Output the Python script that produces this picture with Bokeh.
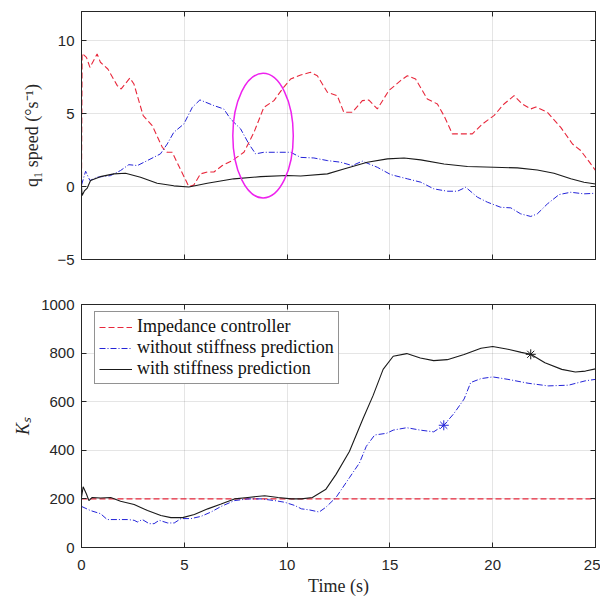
from bokeh.plotting import figure
from bokeh.layouts import column
from bokeh.models import LinearAxis, Range1d, FixedTicker
from bokeh.embed import file_html
from bokeh.resources import INLINE

# ---------------- data: top panel (q1 speed, deg/s) ----------------
t_imp_q = [0, 0.03, 0.24, 0.41, 0.76, 0.92, 1.28, 1.74, 1.93, 2.35, 2.55, 3.0, 3.44, 3.93, 4.17, 4.41,
           5.22, 5.46, 5.79, 6.12, 6.44, 6.85, 7.33, 7.9, 8.39, 8.87, 9.36, 9.77, 10.17, 10.66, 11.14,
           11.47, 11.96, 12.44, 12.76, 13.17, 13.66, 13.98, 14.39, 14.95, 15.52, 15.85, 16.25, 16.82,
           17.31, 17.63, 18.04, 18.53, 19.01, 19.5, 20.06, 20.55, 21.04, 21.44, 21.85, 22.1, 22.66,
           23.31, 23.88, 24.28, 24.77, 25.0]
q_imp = [0, 9.13, 8.86, 8.17, 9.09, 8.52, 8.06, 6.92, 6.69, 7.44, 7.03, 4.86, 4.18, 2.69, 2.35, 2.35,
         0.0, 0.1, 0.87, 1.0, 1.0, 1.44, 1.78, 2.35, 3.72, 5.43, 5.89, 6.69, 7.37, 7.65, 7.83,
         7.6, 6.46, 6.23, 5.09, 5.09, 5.89, 5.93, 5.32, 6.58, 7.26, 7.6, 7.37, 6.0,
         5.66, 4.86, 3.61, 3.61, 3.61, 4.29, 4.86, 5.66, 6.23, 5.66, 5.32, 5.45, 5.09,
         4.06, 2.92, 2.47, 1.55, 1.1]

t_wo_q = [0, 0.2, 0.41, 0.76, 1.41, 1.9, 2.3, 2.72, 3.2, 3.84, 4.17, 4.49, 4.98, 5.39, 5.76, 6.44,
          6.92, 7.25, 7.74, 8.14, 8.47, 8.87, 9.52, 10.17, 10.66, 11.3, 11.96, 12.6, 13.17, 13.66,
          14.39, 15.04, 15.85, 16.5, 17.14, 17.8, 18.28, 18.69, 19.26, 19.74, 20.39, 20.88, 21.36,
          21.85, 22.17, 22.66, 23.23, 23.8, 24.44, 25.0]
q_wo = [0.1, 1.05, 0.41, 0.64, 0.75, 1.1, 1.5, 1.44, 1.78, 2.24, 2.92, 3.72, 4.29, 5.43, 5.94, 5.55,
        5.32, 4.63, 3.95, 2.92, 2.24, 2.35, 2.35, 2.35, 2.0, 1.96, 1.78, 1.67, 1.44, 1.74,
        1.32, 0.82, 0.53, 0.3, -0.16, -0.32, -0.32, -0.05, -0.73, -1.07, -1.42, -1.46, -1.87,
        -2.05, -1.87, -1.19, -0.55, -0.39, -0.5, -0.46]

t_w_q = [0, 0.03, 0.14, 0.28, 0.44, 0.92, 1.57, 2.14, 2.87, 3.68, 4.49, 5.22, 6.12, 7.41, 8.71,
         10.01, 10.66, 11.96, 12.76, 13.9, 14.88, 15.69, 16.5, 17.63, 18.77, 20.06, 21.2, 22.17,
         22.98, 23.8, 24.44, 25.0]
q_w = [0, -0.62, -0.3, -0.1, 0.41, 0.68, 0.87, 0.91, 0.64, 0.23, 0.05, -0.03, 0.23, 0.53, 0.68,
       0.76, 0.72, 0.87, 1.21, 1.67, 1.9, 1.96, 1.83, 1.55, 1.37, 1.32, 1.28, 1.14,
       0.91, 0.53, 0.3, 0.18]

# highlighted region (ellipse) in the top panel
ell_x = [8.83]
ell_y = [3.49]
ell_w = [2.94]
ell_h = [8.54]

# ---------------- data: bottom panel (Ks) ----------------
t_imp_k = [0, 25]
k_imp = [200, 200]

t_w_k = [0, 0.08, 0.24, 0.36, 0.52, 0.93, 1.42, 1.9, 2.56, 3.21, 3.86, 4.35, 4.92, 5.49, 6.14,
         6.79, 7.44, 8.09, 8.91, 9.56, 10.21, 10.7, 11.23, 11.89, 12.38, 13.03, 13.69, 14.18,
         14.67, 15.16, 15.82, 16.48, 17.13, 17.79, 18.61, 19.43, 20.0, 20.74, 21.39, 21.85,
         22.54, 23.36, 24.02, 24.51, 25.0]
k_w = [206, 250, 220, 193, 206, 204, 206, 190, 177, 152, 132, 123, 123, 136, 159,
       179, 200, 206, 213, 206, 200, 200, 206, 240, 301, 395, 530, 625,
       733, 787, 798, 780, 769, 773, 794, 820, 827, 816, 803, 795,
       760, 733, 722, 726, 735]

t_wo_k = [0, 0.44, 0.93, 1.25, 2.23, 2.56, 2.72, 2.96, 3.29, 3.53, 3.78, 4.19, 4.51, 4.84, 5.33,
          5.81, 6.3, 6.79, 7.44, 8.09, 8.75, 9.4, 9.89, 10.37, 10.7, 11.07, 11.56, 11.89, 12.38,
          13.03, 13.52, 13.85, 14.26, 14.84, 15.16, 15.82, 16.48, 17.13, 17.62, 18.11, 18.61,
          18.93, 19.43, 20.0, 20.74, 21.72, 22.7, 23.69, 24.51, 25.0]
k_wo = [169, 152, 139, 115, 115, 112, 105, 115, 98, 98, 112, 101, 101, 119, 119,
        128, 146, 169, 193, 200, 200, 193, 186, 173, 159, 155, 146, 166, 206,
        287, 348, 416, 463, 470, 483, 493, 483, 476, 503, 551, 611,
        679, 695, 702, 692, 676, 665, 668, 686, 692]

star_w_t = [21.85]
star_w_k = [795]
star_wo_t = [17.62]
star_wo_k = [503]

x_ticks = [0, 5, 10, 15, 20, 25]
yq_ticks = [-5, 0, 5, 10]
yk_ticks = [0, 200, 400, 600, 800, 1000]

RED = "#e8283c"
BLUE = "#2424d8"
BLACK = "#1a1a1a"
AX = "#262626"
SERIF = "Liberation Serif"
SANS = "Liberation Sans"


def tick_only_axis(ax, ticks):
    # ticks without labels: use minor ticks only (minor ticks carry no labels)
    ax.ticker = FixedTicker(ticks=[], minor_ticks=ticks)
    ax.minor_tick_in = 5
    ax.minor_tick_out = 0
    ax.minor_tick_line_color = AX
    ax.major_label_standoff = 0
    ax.axis_line_color = AX


def style(p, yticks, show_x_labels):
    xa = p.xaxis[0]
    ya = p.yaxis[0]
    p.outline_line_color = AX
    p.outline_line_alpha = 1
    p.xgrid.ticker = FixedTicker(ticks=x_ticks)
    p.ygrid.ticker = FixedTicker(ticks=yticks)
    for g in (p.xgrid, p.ygrid):
        g.grid_line_color = AX
        g.grid_line_alpha = 0.12
    for ax in (xa, ya):
        ax.axis_line_color = AX
        ax.major_tick_line_color = AX
        ax.major_tick_in = 5
        ax.major_tick_out = 0
        ax.minor_tick_line_color = None
        ax.major_label_text_font = SANS
        ax.major_label_text_font_size = "15px"
        ax.major_label_text_color = AX
        ax.axis_label_text_font = SERIF
        ax.axis_label_text_font_size = "18px"
        ax.axis_label_text_font_style = "normal"
        ax.axis_label_text_color = AX
    xa.ticker = FixedTicker(ticks=x_ticks)
    ya.ticker = FixedTicker(ticks=yticks)
    ya.major_label_standoff = 7
    xa.major_label_standoff = 12
    if not show_x_labels:
        tick_only_axis(xa, x_ticks)
    # box ticks on top / right (MATLAB style)
    for side, ticks in (("above", x_ticks), ("right", yticks)):
        a = LinearAxis()
        tick_only_axis(a, ticks)
        p.add_layout(a, side)
    return xa, ya


# ---------------- top figure ----------------
p1 = figure(width=600, height=270, output_backend="svg", toolbar_location=None,
            x_range=Range1d(0, 25), y_range=Range1d(-5, 12),
            min_border_left=81, min_border_right=5, min_border_top=11, min_border_bottom=11)
xa1, ya1 = style(p1, yq_ticks, False)
ya1.axis_label = "q\u2081 speed (\u00b0s\u207b\u00b9)"
ya1.axis_label_standoff = 12

p1.line(t_imp_q, q_imp, line_color=RED, line_width=1.1, line_dash="6 3")
p1.line(t_wo_q, q_wo, line_color=BLUE, line_width=1.0, line_dash="6 2 1 2")
p1.line(t_w_q, q_w, line_color=BLACK, line_width=1.1)
p1.ellipse(x=ell_x, y=ell_y, width=ell_w, height=ell_h, fill_color=None,
           line_color="#ee22ee", line_width=1.5)

# ---------------- bottom figure ----------------
p2 = figure(width=600, height=328, output_backend="svg", toolbar_location=None,
            x_range=Range1d(0, 25), y_range=Range1d(0, 1000),
            min_border_left=81, min_border_right=5, min_border_top=34, min_border_bottom=47)
xa2, ya2 = style(p2, yk_ticks, True)
ya2.axis_label = "K\u209b"
ya2.axis_label_text_font_style = "italic"
ya2.axis_label_standoff = 5
xa2.axis_label = "Time (s)"
xa2.axis_label_standoff = 3

p2.line(t_imp_k, k_imp, line_color=RED, line_width=1.1, line_dash="6 3",
        legend_label="Impedance controller")
p2.line(t_wo_k, k_wo, line_color=BLUE, line_width=1.0, line_dash="6 2 1 2",
        legend_label="without stiffness prediction")
p2.line(t_w_k, k_w, line_color=BLACK, line_width=1.1,
        legend_label="with stiffness prediction")
p2.scatter(star_w_t, star_w_k, marker="asterisk", size=10, line_color=BLACK, line_width=1)
p2.scatter(star_wo_t, star_wo_k, marker="asterisk", size=10, line_color=BLUE, line_width=1)

lg = p2.legend[0]
lg.location = (13, 163)
lg.margin = 0
lg.padding = 4
lg.spacing = 0
lg.border_line_color = AX
lg.border_line_width = 1
lg.background_fill_alpha = 1
lg.label_text_font = SERIF
lg.label_text_font_size = "18px"
lg.label_text_color = "#111111"
lg.glyph_width = 33
lg.glyph_height = 20
lg.label_height = 20
lg.label_standoff = 5

layout = column(p1, p2, spacing=0)
open("out.html", "w").write(file_html(layout, INLINE))
